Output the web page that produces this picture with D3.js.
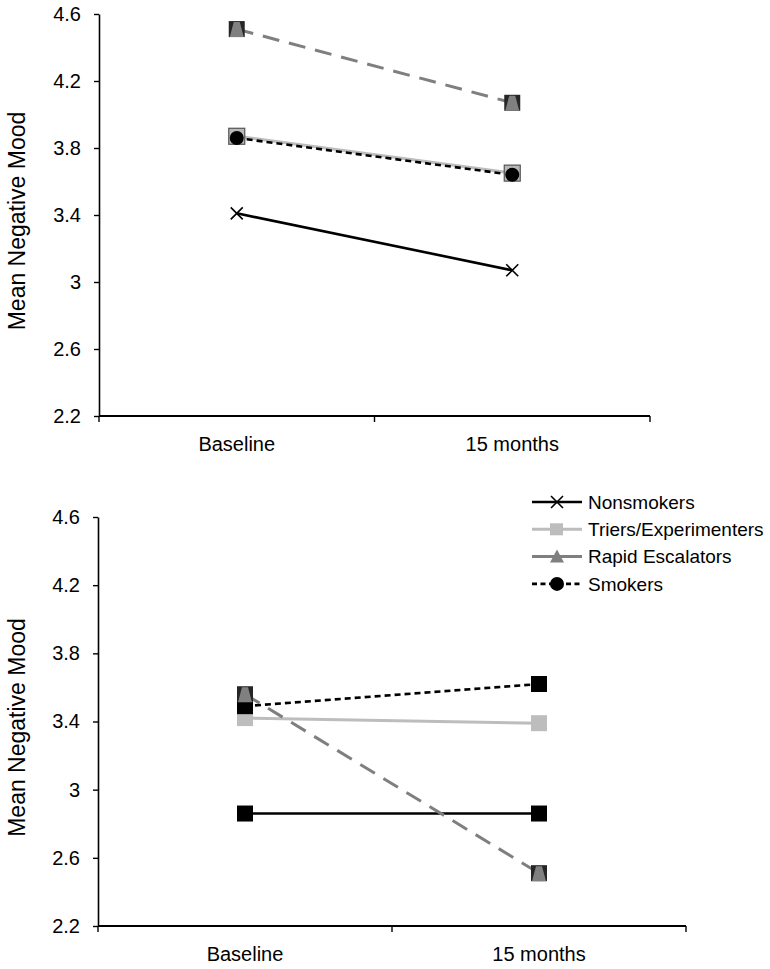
<!DOCTYPE html>
<html>
<head>
<meta charset="utf-8">
<script src="https://cdn.jsdelivr.net/npm/d3@7"></script>
<style>
  html, body { margin: 0; padding: 0; background: #fff; }
  svg { display: block; font-family: "Liberation Sans", Arial, sans-serif; }
</style>
</head>
<body>
<svg id="chart" width="770" height="969"></svg>
<script>
// ---- Data ----
const categories = ["Baseline", "15 months"];
const seriesNames = ["Nonsmokers", "Triers/Experimenters", "Rapid Escalators", "Smokers"];
const yTicks = [2.2, 2.6, 3, 3.4, 3.8, 4.2, 4.6];
const yLabel = "Mean Negative Mood";

// top panel
const topNonsmokers = [3.41, 3.07];
const topTriers     = [3.87, 3.65];
const topRapid      = [4.51, 4.07];
const topSmokers    = [3.86, 3.64];

// bottom panel
const bottomNonsmokers = [2.86, 2.86];
const bottomTriers     = [3.42, 3.39];
const bottomRapid      = [3.56, 2.51];
const bottomSmokers    = [3.49, 3.62];

// ---- Styles ----
const styles = {
  "Nonsmokers":           { color: "#000000", width: 2.6, dash: null },
  "Triers/Experimenters": { color: "#bdbdbd", width: 3,   dash: null },
  "Rapid Escalators":     { color: "#7f7f7f", width: 3,   dash: "17,10" },
  "Smokers":              { color: "#000000", width: 2.6, dash: "6,4" }
};

const svg = d3.select("#chart");

function drawMarker(g, type, x, y) {
  if (type === "x") {
    const s = 6;
    g.append("path")
      .attr("d", `M${x - s},${y - s}L${x + s},${y + s}M${x - s},${y + s}L${x + s},${y - s}`)
      .attr("stroke", "#000").attr("stroke-width", 1.6).attr("fill", "none");
  } else if (type === "graysqOutline") {
    g.append("rect").attr("x", x - 8).attr("y", y - 8).attr("width", 16).attr("height", 16)
      .attr("fill", "#b8b8b8").attr("stroke", "#555").attr("stroke-width", 1.2);
  } else if (type === "lightsq") {
    g.append("rect").attr("x", x - 8).attr("y", y - 8).attr("width", 16).attr("height", 16)
      .attr("fill", "#bdbdbd");
  } else if (type === "blacksq") {
    g.append("rect").attr("x", x - 8).attr("y", y - 8).attr("width", 16).attr("height", 16)
      .attr("fill", "#000");
  } else if (type === "triSq") {
    g.append("rect").attr("x", x - 8).attr("y", y - 8).attr("width", 16).attr("height", 16)
      .attr("fill", "#262626");
    g.append("path")
      .attr("d", `M${x - 3},${y - 7}L${x + 3},${y - 7}L${x + 7},${y + 8}L${x - 7},${y + 8}Z`)
      .attr("fill", "#808080");
  } else if (type === "circle") {
    g.append("circle").attr("cx", x).attr("cy", y).attr("r", 7).attr("fill", "#000");
  } else if (type === "tri") {
    g.append("path")
      .attr("d", `M${x},${y - 7}L${x + 7},${y + 6}L${x - 7},${y + 6}Z`)
      .attr("fill", "#7f7f7f");
  }
}

function panel(cfg) {
  const g = svg.append("g");
  const y = d3.scaleLinear().domain([2.2, 4.6]).range([cfg.bottom, cfg.top]);
  const x = d3.scaleBand().domain(categories).range([cfg.left, cfg.right]).padding(0);

  // y axis
  const ya = g.append("g").attr("transform", `translate(${cfg.left},0)`)
    .call(d3.axisLeft(y).tickValues(yTicks).tickFormat(d => String(d)).tickSizeInner(5).tickSizeOuter(0).tickPadding(13));
  ya.select(".domain").attr("stroke", "#000").attr("stroke-width", 1.6);
  ya.selectAll(".tick line").attr("stroke", "#000").attr("stroke-width", 1.4);
  ya.selectAll(".tick text").attr("font-size", 20).attr("fill", "#000")
    .attr("font-family", "'Liberation Sans', Arial, sans-serif");

  // x axis
  const xg = g.append("g");
  xg.append("line").attr("x1", cfg.left).attr("x2", cfg.right)
    .attr("y1", cfg.bottom).attr("y2", cfg.bottom).attr("stroke", "#000").attr("stroke-width", 1.8);
  const edges = [x(categories[0])].concat(categories.map(c => x(c) + x.bandwidth()));
  edges.forEach(e => {
    xg.append("line").attr("x1", e).attr("x2", e).attr("y1", cfg.bottom).attr("y2", cfg.bottom + 6)
      .attr("stroke", "#000").attr("stroke-width", 1.4);
  });
  categories.forEach(c => {
    xg.append("text").attr("x", x(c) + x.bandwidth() / 2).attr("y", cfg.bottom + 35)
      .attr("text-anchor", "middle").attr("font-size", 20).attr("fill", "#000").text(c);
  });

  // y label
  const ymid = (cfg.top + cfg.bottom) / 2 + 6;
  g.append("text").attr("transform", `translate(25,${ymid}) rotate(-90)`)
    .attr("text-anchor", "middle").attr("font-size", 23).attr("fill", "#000").text(yLabel);

  // series
  const line = d3.line().x((d, i) => x(categories[i]) + x.bandwidth() / 2).y(d => y(d));
  cfg.series.forEach(s => {
    const st = styles[s.name];
    g.append("path").datum(s.values).attr("d", line)
      .attr("fill", "none").attr("stroke", st.color).attr("stroke-width", st.width)
      .attr("stroke-dasharray", st.dash);
  });
  cfg.series.forEach(s => {
    s.values.forEach((v, i) => {
      drawMarker(g, s.marker, x(categories[i]) + x.bandwidth() / 2, y(v));
    });
  });
}

panel({
  left: 99, right: 650, top: 14, bottom: 416,
  series: [
    { name: "Nonsmokers", values: topNonsmokers, marker: "x" },
    { name: "Triers/Experimenters", values: topTriers, marker: "graysqOutline" },
    { name: "Rapid Escalators", values: topRapid, marker: "triSq" },
    { name: "Smokers", values: topSmokers, marker: "circle" }
  ]
});

panel({
  left: 98, right: 686, top: 517, bottom: 926,
  series: [
    { name: "Nonsmokers", values: bottomNonsmokers, marker: "blacksq" },
    { name: "Triers/Experimenters", values: bottomTriers, marker: "lightsq" },
    { name: "Smokers", values: bottomSmokers, marker: "blacksq" },
    { name: "Rapid Escalators", values: bottomRapid, marker: "triSq" }
  ]
});

// legend
const legendMarkers = ["x", "lightsq", "tri", "circle"];
const legend = svg.append("g");
seriesNames.forEach((name, i) => {
  const yy = 502 + i * 27.3;
  const st = styles[name];
  legend.append("line").attr("x1", 532).attr("x2", 582).attr("y1", yy).attr("y2", yy)
    .attr("stroke", st.color).attr("stroke-width", st.width)
    .attr("stroke-dasharray", name === "Smokers" ? "5,3.5" : (name === "Rapid Escalators" ? null : st.dash));
  const mk = legendMarkers[i];
  if (mk === "lightsq") {
    legend.append("rect").attr("x", 550).attr("y", yy - 6).attr("width", 13).attr("height", 12).attr("fill", "#bdbdbd");
  } else {
    drawMarker(legend, mk, 557, yy);
  }
  legend.append("text").attr("x", 588).attr("y", yy).attr("dy", "0.35em")
    .attr("font-size", 19).attr("fill", "#000").text(name);
});
</script>
</body>
</html>
